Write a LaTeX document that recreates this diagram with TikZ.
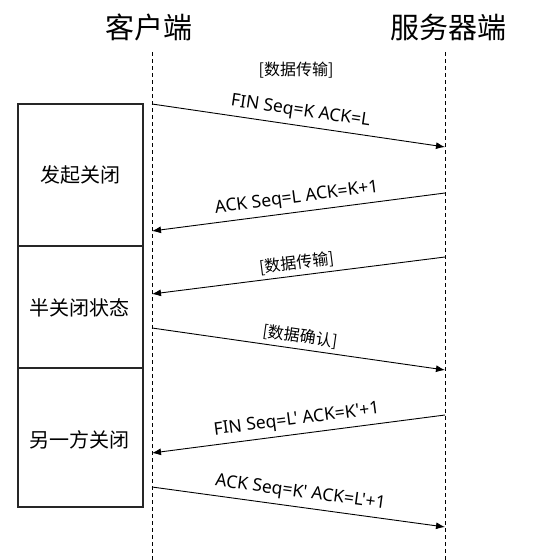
\documentclass[tikz,border=0pt]{standalone}
\usepackage{fontspec}
\setmainfont{Noto Sans CJK SC}
\newfontfamily\latinfont{Noto Sans}
\usetikzlibrary{arrows.meta}

\tikzset{
	msg/.style={->, line width=0.9pt},
	msglabel/.style={sloped, above=5pt, font=\latinfont\fontsize{17.5}{19}\selectfont},
	cnlabel/.style={sloped, above=4pt, font=\fontsize{16}{18}\selectfont},
	lifeline/.style={dashed, line width=0.6pt, dash pattern=on 4pt off 3pt},
	statebox/.style={line width=1.2pt, draw=black!85}
}

\begin{document}
\begin{tikzpicture}[x=1pt, y=1pt, >={Latex[length=9pt,width=7pt]}, inner sep=0pt]

	\useasboundingbox (0,0) rectangle (543,-560);

	% Titel
	\node[font=\fontsize{29}{30}\selectfont](client) at (149,-27) {客户端};
	\node[font=\fontsize{29}{30}\selectfont](server) at (448,-27) {服务器端};

	% Lebenslinien
	\coordinate (client_start) at (152,-52);
	\coordinate (client_ende) at (152,-560);
	\coordinate (server_start) at (445,-52);
	\coordinate (server_ende) at (445,-560);
	\draw[lifeline](client_start) -- (client_ende);
	\draw[lifeline](server_start) -- (server_ende);

	% Zustaende
	\draw[statebox] (18,-104) rectangle (143,-507);
	\draw[statebox] (18,-246) -- (143,-246);
	\draw[statebox] (18,-368) -- (143,-368);
	\node[font=\fontsize{20}{22}\selectfont](s1) at (80,-175) {发起关闭};
	\node[font=\fontsize{20}{22}\selectfont](s2) at (80,-308) {半关闭状态};
	\node[font=\fontsize{20}{22}\selectfont](s3) at (80,-440) {另一方关闭};

	\node[font=\fontsize{16}{18}\selectfont](data) at (296,-70) {[数据传输]};

	% Nachrichten
	\coordinate (a_start) at (152,-104);
	\coordinate (a_ende) at (445,-147);
	\coordinate (b_start) at (445,-193);
	\coordinate (b_ende) at (152,-231);
	\coordinate (c_start) at (445,-257);
	\coordinate (c_ende) at (152,-294);
	\coordinate (d_start) at (152,-328);
	\coordinate (d_ende) at (445,-370);
	\coordinate (e_start) at (445,-415);
	\coordinate (e_ende) at (152,-453);
	\coordinate (f_start) at (152,-487);
	\coordinate (f_ende) at (445,-527);

	\draw[msg](a_start) -- node[msglabel]{FIN Seq=K ACK=L} (a_ende);
	\draw[msg](b_start) -- node[msglabel]{ACK Seq=L ACK=K+1} (b_ende);
	\draw[msg](c_start) -- node[cnlabel]{[数据传输]} (c_ende);
	\draw[msg](d_start) -- node[cnlabel]{[数据确认]} (d_ende);
	\draw[msg](e_start) -- node[msglabel]{FIN Seq=L' ACK=K'+1} (e_ende);
	\draw[msg](f_start) -- node[msglabel]{ACK Seq=K' ACK=L'+1} (f_ende);

\end{tikzpicture}
\end{document}
